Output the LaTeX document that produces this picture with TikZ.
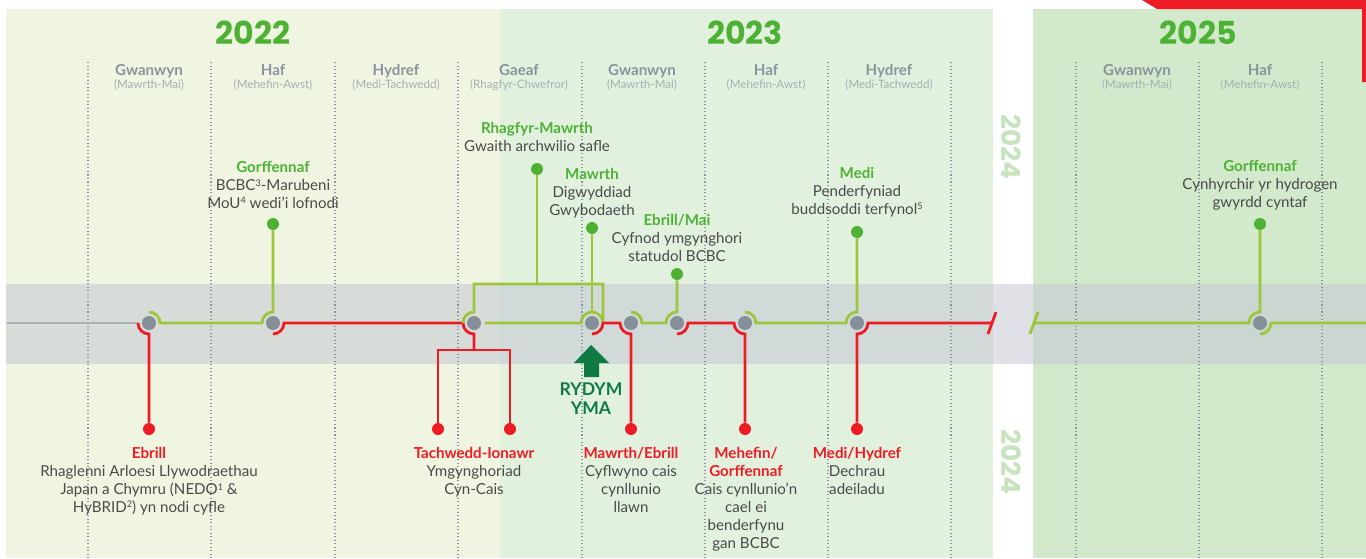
\documentclass[tikz,border=0pt]{standalone}
\usepackage{fontspec}
\setmainfont{Lato}
\newfontfamily\yearfont{Poppins}
\usetikzlibrary{calc}

\definecolor{panelA}{HTML}{F0F5E1}
\definecolor{panelB}{HTML}{E2F1DE}
\definecolor{panelC}{HTML}{D2E9CB}
\definecolor{bandgrey}{HTML}{C4C8D4}
\definecolor{hgreen}{HTML}{4DB234}
\definecolor{lgreen}{HTML}{9CC63B}
\definecolor{dgreen}{HTML}{0F7B43}
\definecolor{brandred}{HTML}{ED1C24}
\definecolor{nodegrey}{HTML}{858F99}
\definecolor{linegrey}{HTML}{A8B0B9}
\definecolor{seasongrey}{HTML}{8A949E}
\definecolor{subgrey}{HTML}{A6AEB7}
\definecolor{txtgrey}{HTML}{4A4A4A}
\definecolor{faint}{HTML}{C6E3BE}

\newcommand{\gtitle}[1]{\textcolor{hgreen}{\bfseries #1}}
\newcommand{\rtitle}[1]{\textcolor{brandred}{\bfseries #1}}
\newcommand{\subline}[1]{{\fontsize{6.6}{7.2}\selectfont\mdseries\color{subgrey}#1}}
\newcommand{\fnum}[1]{\raisebox{2.6pt}{\fontsize{5.2}{5}\selectfont #1}}

\begin{document}
\begin{tikzpicture}[x=0.02cm,y=0.02cm,
    stop/.style={shape=circle,fill=nodegrey,minimum size=0.28cm,inner sep=0pt},
    gdot/.style={shape=circle,fill=hgreen,minimum size=0.24cm,inner sep=0pt},
    rdot/.style={shape=circle,fill=brandred,minimum size=0.24cm,inner sep=0pt},
    greenline/.style={draw=lgreen,line width=1.6pt},
    redline/.style={draw=brandred,line width=1.6pt},
    tick/.style={draw=seasongrey,line width=0.7pt,dash pattern=on 0.6pt off 1.4pt},
    year/.style={font=\yearfont\bfseries\fontsize{18}{20}\selectfont,text=hgreen},
    season/.style={font=\fontsize{8.6}{7.2}\selectfont\bfseries,text=seasongrey,align=center,inner sep=0pt,anchor=north},
    event/.style={font=\fontsize{8.6}{10.24}\selectfont,text=txtgrey,align=center,inner sep=0pt,anchor=north}]
  \useasboundingbox (0,0) rectangle (1366,-558);

  % panels and band
  \fill[panelA] (6,-9) rectangle (500,-558);
  \fill[panelB] (500,-9) rectangle (993,-558);
  \fill[panelC] (1033,-9) rectangle (1366,-558);
  \fill[brandred] (1142,0) -- (1366,0) -- (1366,-82) -- (1362,-82) -- (1362,-9) -- (1157,-9) -- cycle;
  \fill[bandgrey,opacity=0.55] (6,-284) rectangle (1366,-364);

  \draw[tick] (88,-62) -- (88,-558) (211,-62) -- (211,-558) (335,-62) -- (335,-558)
    (458,-62) -- (458,-558) (582,-62) -- (582,-558) (705,-62) -- (705,-558)
    (828,-62) -- (828,-558) (951,-62) -- (951,-558) (1076,-62) -- (1076,-558)
    (1199,-62) -- (1199,-558) (1322,-62) -- (1322,-558);

  % years and seasons
  \node[year] (Y1) at (253,-33) {2022};
  \node[year] (Y2) at (745,-33) {2023};
  \node[year] (Y3) at (1198,-33) {2025};
  \node[rotate=-90,font=\yearfont\bfseries\fontsize{15}{15}\selectfont,text=faint] (V1) at (1011,-147) {2024};
  \node[rotate=-90,font=\yearfont\bfseries\fontsize{15}{15}\selectfont,text=faint] (V2) at (1011,-462) {2024};

  \node[season] (Q1) at (149,-64) {Gwanwyn\\\subline{(Mawrth-Mai)}};
  \node[season] (Q2) at (273,-64) {Haf\\\subline{(Mehefin-Awst)}};
  \node[season] (Q3) at (396,-64) {Hydref\\\subline{(Medi-Tachwedd)}};
  \node[season] (Q4) at (519,-64) {Gaeaf\\\subline{(Rhagfyr-Chwefror)}};
  \node[season] (Q5) at (642,-64) {Gwanwyn\\\subline{(Mawrth-Mai)}};
  \node[season] (Q6) at (766,-64) {Haf\\\subline{(Mehefin-Awst)}};
  \node[season] (Q7) at (889,-64) {Hydref\\\subline{(Medi-Tachwedd)}};
  \node[season] (Q8) at (1137,-64) {Gwanwyn\\\subline{(Mawrth-Mai)}};
  \node[season] (Q9) at (1260,-64) {Haf\\\subline{(Mehefin-Awst)}};

  % timeline stops
  \node[stop] (N1) at (149,-323) {};
  \node[stop] (N2) at (273,-323) {};
  \node[stop] (N3) at (474,-323) {};
  \node[stop] (N4) at (592,-323) {};
  \node[stop] (N5) at (631,-323) {};
  \node[stop] (N6) at (677,-323) {};
  \node[stop] (N7) at (745,-323) {};
  \node[stop] (N8) at (857,-323) {};
  \node[stop] (N9) at (1260,-323) {};

  \node[gdot] (G1) at (273,-224) {};
  \node[gdot] (G2) at (537,-169) {};
  \node[gdot] (G3) at (592,-228) {};
  \node[gdot] (G4) at (677,-274) {};
  \node[gdot] (G5) at (857,-232) {};
  \node[gdot] (G6) at (1260,-224) {};

  \node[rdot] (R1) at (149,-429) {};
  \node[rdot] (R2) at (438,-429) {};
  \node[rdot] (R3) at (510,-429) {};
  \node[rdot] (R4) at (631,-429) {};
  \node[rdot] (R5) at (745,-429) {};
  \node[rdot] (R6) at (857,-429) {};

  \coordinate (S) at (7,-323);
  \coordinate (E1) at (992,-323);
  \coordinate (E2) at (1034,-323);
  \coordinate (E3) at (1366,-323);

  % connectors
  \draw[draw=linegrey,line width=1.6pt] (S) -- ($(N1)+(180:11)$);
  \draw[redline] ($(N1)+(180:11)$) arc[start angle=180,end angle=270,radius=11] -- (R1);
  \draw[greenline] ($(N1)+(90:11)$) arc[start angle=90,end angle=0,radius=11] -- ($(N2)+(180:11)$) arc[start angle=180,end angle=90,radius=11] -- (G1);
  \draw[redline] ($(N2)+(270:11)$) arc[start angle=270,end angle=360,radius=11] -- ($(N3)+(180:11)$) arc[start angle=180,end angle=270,radius=11] -- ($(N3)+(0,-27)$) coordinate (J1);
  \draw[redline] (R2) |- (J1) -| (R3);
  \draw[greenline] ($(N3)+(180:11)$) arc[start angle=180,end angle=90,radius=11] |- ($(N4)+(11,39)$) coordinate (J2) -- ($(N4)+(0:11)$);
  \draw[greenline] (G2) -- (G2 |- J2);
  \draw[greenline] ($(N3)+(0:11)$) -- ($(N4)+(180:11)$) arc[start angle=180,end angle=0,radius=11];
  \draw[greenline] (G3) -- ($(N4)+(90:11)$);
  \draw[redline] ($(N4)+(270:11)$) arc[start angle=270,end angle=360,radius=11] -- ($(N5)+(180:11)$) arc[start angle=180,end angle=270,radius=11] -- (R4);
  \draw[greenline] ($(N5)+(90:11)$) arc[start angle=90,end angle=0,radius=11] -- ($(N6)+(180:11)$) arc[start angle=180,end angle=90,radius=11] -- (G4);
  \draw[redline] ($(N6)+(270:11)$) arc[start angle=270,end angle=360,radius=11] -- ($(N7)+(180:11)$) arc[start angle=180,end angle=270,radius=11] -- (R5);
  \draw[greenline] ($(N7)+(90:11)$) arc[start angle=90,end angle=0,radius=11] -- ($(N8)+(180:11)$) arc[start angle=180,end angle=90,radius=11] -- (G5);
  \draw[redline] (R6) -- ($(N8)+(270:11)$) arc[start angle=270,end angle=360,radius=11] -- (E1);
  \draw[redline] (E1) ++(-4,-11) -- ++(8,22);
  \draw[greenline] (E2) ++(-4,-11) -- ++(8,22);
  \draw[greenline] (E2) -- ($(N9)+(180:11)$) arc[start angle=180,end angle=90,radius=11] -- (G6);
  \draw[greenline] ($(N9)+(270:11)$) arc[start angle=270,end angle=360,radius=11] -- (E3);

  % we are here
  \fill[dgreen] (591,-345) -- (609,-363) -- (599,-363) -- (599,-377) -- (584,-377) -- (584,-363) -- (574,-363) -- cycle;
  \node[font=\fontsize{10}{10.8}\selectfont\bfseries,text=dgreen,align=center,inner sep=0pt] (HERE) at (591,-399) {RYDYM\\YMA};

  % events above
  \node[event] (T1) at (273,-161) {\gtitle{Gorffennaf}\\BCBC\fnum{3}-Marubeni\\MoU\fnum{4} wedi’i lofnodi};
  \node[event] (T2) at (537,-122) {\gtitle{Rhagfyr-Mawrth}\\Gwaith archwilio safle};
  \node[event] (T3) at (592,-168) {\gtitle{Mawrth}\\Digwyddiad\\Gwybodaeth};
  \node[event] (T4) at (677,-214) {\gtitle{Ebrill/Mai}\\Cyfnod ymgynghori\\statudol BCBC};
  \node[event] (T5) at (857,-167) {\gtitle{Medi}\\Penderfyniad\\buddsoddi terfynol\fnum{5}};
  \node[event] (T6) at (1260,-160) {\gtitle{Gorffennaf}\\Cynhyrchir yr hydrogen\\gwyrdd cyntaf};

  % events below
  \node[event] (B1) at (149,-447) {\rtitle{Ebrill}\\Rhaglenni Arloesi Llywodraethau\\Japan a Chymru (NEDO\fnum{1} \&\\HyBRID\fnum{2}) yn nodi cyfle};
  \node[event] (B2) at (474,-447) {\rtitle{Tachwedd-Ionawr}\\Ymgynghoriad\\Cyn-Cais};
  \node[event] (B3) at (631,-447) {\rtitle{Mawrth/Ebrill}\\Cyflwyno cais\\cynllunio\\llawn};
  \node[event] (B4) at (746,-447) {\rtitle{Mehefin/}\\\rtitle{Gorffennaf}\\Cais cynllunio’n\\cael ei\\benderfynu\\gan BCBC};
  \node[event] (B5) at (857,-447) {\rtitle{Medi/Hydref}\\Dechrau\\adeiladu};
\end{tikzpicture}
\end{document}
